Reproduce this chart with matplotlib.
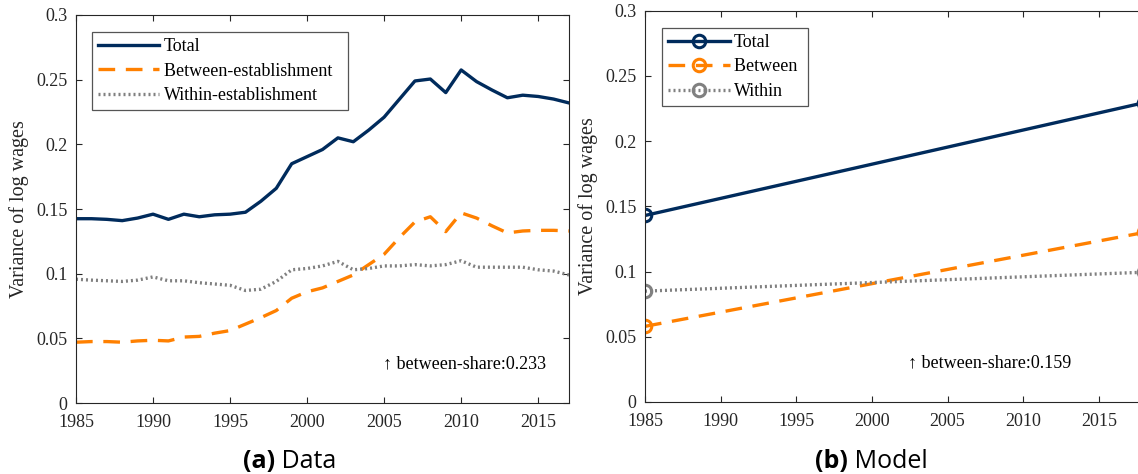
import matplotlib.pyplot as plt

# panel (a): data
years = list(range(1985, 2018))
total = [0.1425, 0.1425, 0.142, 0.141, 0.143, 0.146, 0.142, 0.146, 0.144, 0.1455,
         0.146, 0.1475, 0.156, 0.166, 0.185, 0.1905, 0.196, 0.205, 0.202, 0.211,
         0.221, 0.235, 0.249, 0.2505, 0.240, 0.2575, 0.2485, 0.242, 0.236, 0.238,
         0.237, 0.235, 0.232]
between = [0.047, 0.0475, 0.0475, 0.047, 0.048, 0.0485, 0.048, 0.051, 0.0515, 0.054,
           0.056, 0.061, 0.066, 0.0715, 0.081, 0.086, 0.089, 0.094, 0.099, 0.107,
           0.115, 0.128, 0.140, 0.144, 0.1325, 0.147, 0.143, 0.137, 0.1315, 0.133,
           0.1335, 0.1335, 0.133]
within = [0.0957, 0.095, 0.0945, 0.094, 0.095, 0.0975, 0.0945, 0.0945, 0.093, 0.092,
          0.091, 0.087, 0.088, 0.094, 0.103, 0.104, 0.106, 0.1095, 0.103, 0.104,
          0.106, 0.106, 0.107, 0.106, 0.107, 0.110, 0.105, 0.105, 0.105, 0.105,
          0.103, 0.102, 0.099]

# panel (b): model
model_years = [1985, 2018]
model_total = [0.143, 0.2295]
model_between = [0.058, 0.130]
model_within = [0.085, 0.0995]

navy = '#002B5C'
orange = '#FF8000'
gray = '#808080'
dash = (0, (5, 3.2))
dot = (0, (0.6, 0.9))

plt.rcParams['font.family'] = ['Liberation Serif', 'DejaVu Serif']

fig = plt.figure(figsize=(11.38, 4.74), dpi=100)
ax1 = fig.add_axes([76/1138, 71/474, 493/1138, 388/474])
ax2 = fig.add_axes([645/1138, 72/474, 15.13*35/1138, 391.3/474])

ax1.plot(years, total, color=navy, lw=2.4, label='Total')
ax1.plot(years, between, color=orange, lw=2.4, ls=dash, label='Between-establishment  ')
ax1.plot(years, within, color=gray, lw=2.4, ls=dot, label='Within-establishment')
ax1.set_xlim(1985, 2017)
ax1.text(2004.9, 0.03, '\u2191 between-share:0.233', fontsize=13, va='center',
         family=['Liberation Serif', 'DejaVu Sans'])

mk = dict(marker='o', ms=9, mfc='none', mew=2.2)
ax2.plot(model_years, model_total, color=navy, lw=2.4, label='Total', **mk)
ax2.plot(model_years, model_between, color=orange, lw=2.4, ls=dash, label='Between ', **mk)
ax2.plot(model_years, model_within, color=gray, lw=2.4, ls=dot, label='Within', **mk)
ax2.set_xlim(1985, 2020)
ax2.text(2002.4, 0.03, '\u2191 between-share:0.159', fontsize=13, va='center',
         family=['Liberation Serif', 'DejaVu Sans'])

for ax in (ax1, ax2):
    ax.set_ylim(0, 0.3)
    ax.set_xticks(range(1985, 2020, 5))
    ax.set_yticks([0, 0.05, 0.1, 0.15, 0.2, 0.25, 0.3])
    ax.set_yticklabels(['0', '0.05', '0.1', '0.15', '0.2', '0.25', '0.3'])
    ax.tick_params(direction='in', top=True, right=True, length=4, width=0.8,
                   labelsize=13, colors='#262626')
    ax.tick_params(axis='x', pad=8)
    ax.tick_params(axis='y', pad=6)
    for s in ax.spines.values():
        s.set_color('#262626')
        s.set_linewidth(0.8)
    ax.set_ylabel('Variance of log wages', fontsize=14.5, labelpad=5, color='#262626')
    leg = ax.legend(loc='upper left', bbox_to_anchor=(0.032, 0.957), fontsize=13,
                    fancybox=False, edgecolor='#555555', framealpha=1,
                    handlelength=3.4, handletextpad=0.25, labelspacing=0.42,
                    borderpad=0.35, borderaxespad=0)
    leg.get_frame().set_linewidth(0.9)


def caption(x, tag, word):
    y = 1 - 461/474
    fig.text(x, y, tag, fontsize=18, fontweight='bold', ha='right', va='center', family='Open Sans')
    fig.text(x, y, ' ' + word, fontsize=18, ha='left', va='center', family='Open Sans')


caption(275/1138, '(a)', 'Data')
caption(848/1138, '(b)', 'Model')

fig.savefig('out.png', dpi=100)
